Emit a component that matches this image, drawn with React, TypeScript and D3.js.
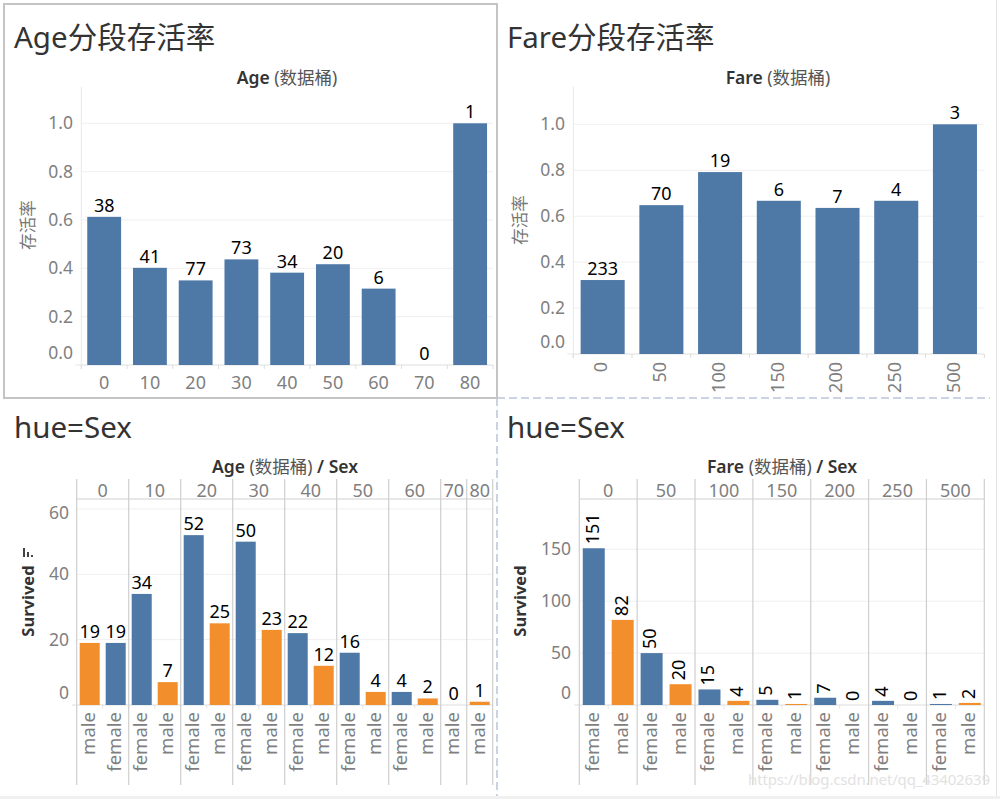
import React from 'react';
import * as d3 from 'd3';

// survival rate by bin (top charts)
const ageBins = ['0', '10', '20', '30', '40', '50', '60', '70', '80'];
const ageRate = [0.613, 0.402, 0.35, 0.437, 0.382, 0.417, 0.316, 0, 1.0];
const ageCount = [38, 41, 77, 73, 34, 20, 6, 0, 1];

const fareBins = ['0', '50', '100', '150', '200', '250', '500'];
const fareRate = [0.322, 0.648, 0.792, 0.667, 0.636, 0.667, 1.0];
const fareCount = [233, 70, 19, 6, 7, 4, 3];

const rateTicks = [0, 0.2, 0.4, 0.6, 0.8, 1.0];

// survived counts by bin / sex (bottom charts)
const ageSexGroup = ['0', '0', '10', '10', '20', '20', '30', '30', '40', '40', '50', '50', '60', '60', '70', '80'];
const ageSexSex = ['male', 'female', 'female', 'male', 'female', 'male', 'female', 'male', 'female', 'male', 'female', 'male', 'female', 'male', 'male', 'male'];
const ageSexSurvived = [19, 19, 34, 7, 52, 25, 50, 23, 22, 12, 16, 4, 4, 2, 0, 1];
const ageSurvTicks = [0, 20, 40, 60];

const fareSexGroup = ['0', '0', '50', '50', '100', '100', '150', '150', '200', '200', '250', '250', '500', '500'];
const fareSexSex = ['female', 'male', 'female', 'male', 'female', 'male', 'female', 'male', 'female', 'male', 'female', 'male', 'female', 'male'];
const fareSexSurvived = [151, 82, 50, 20, 15, 4, 5, 1, 7, 0, 4, 0, 1, 2];
const fareSurvTicks = [0, 50, 100, 150];

const FONT = "'Noto Sans', 'Noto Sans CJK SC', sans-serif";
const BLUE = '#4e79a7';
const ORANGE = '#f28e2b';
const TICK = '#7f7f7f';
const GRID = '#efefef';
const RULE = '#cfcfcf';
const DARK = '#333333';

type RateProps = {
  bins: string[]; rates: number[]; counts: number[];
  left: number; right: number; axisTop: number; base: number; one: number;
  labelRight: number; yTitleX: number; yTitleY: number;
  headerX: number; headerName: string; rotateX: boolean; pad: number;
};

function RateChart(p: RateProps) {
  const x = d3.scaleBand<string>().domain(p.bins).range([p.left, p.right])
    .paddingInner(p.pad).paddingOuter(p.pad / 2);
  const y = d3.scaleLinear().domain([0, 1]).range([p.base, p.one]);
  const step = x.step();
  const bounds = d3.range(p.bins.length + 1).map(i => p.left + i * step);
  return (
    <g>
      <text x={p.headerX} y={84} textAnchor="middle" fontSize={17.5} fill={DARK}>
        <tspan fontWeight={600}>{p.headerName}</tspan>
        <tspan fill="#555"> (数据桶)</tspan>
      </text>
      {rateTicks.map(t => (
        <line key={'g' + t} x1={p.left} x2={p.right} y1={y(t)} y2={y(t)} stroke={GRID} strokeWidth={1} />
      ))}
      <line x1={p.left} x2={p.left} y1={p.axisTop} y2={p.base + 4} stroke="#e8e8e8" />
      <line x1={p.left - 6} x2={p.right} y1={p.base} y2={p.base} stroke="#e6e6e6" />
      {bounds.map((b, i) => (
        <line key={'t' + i} x1={b} x2={b} y1={p.base} y2={p.base + 4} stroke="#dddddd" />
      ))}
      {rateTicks.map(t => (
        <text key={'l' + t} x={p.labelRight} y={y(t) + (t === 0 ? -12 : 0)} dy="0.35em"
          textAnchor="end" fontSize={17.5} fill={TICK}>{t.toFixed(1)}</text>
      ))}
      <text transform={`translate(${p.yTitleX},${p.yTitleY}) rotate(-90)`} textAnchor="middle"
        dominantBaseline="middle" fontSize={16.5} fill="#777">存活率</text>
      {p.bins.map((b, i) => (
        <g key={b}>
          <rect x={x(b)} y={y(p.rates[i])} width={x.bandwidth()} height={p.base - y(p.rates[i])} fill={BLUE} />
          <text x={(x(b) as number) + x.bandwidth() / 2} y={y(p.rates[i]) - 5} textAnchor="middle"
            fontSize={18} fill="#000">{p.counts[i]}</text>
          {p.rotateX ? (
            <text transform={`translate(${(x(b) as number) + x.bandwidth() / 2},${p.base + 8}) rotate(-90)`}
              textAnchor="end" dominantBaseline="middle" fontSize={18} fill={TICK}>{b}</text>
          ) : (
            <text x={(x(b) as number) + x.bandwidth() / 2} y={p.base + 24} textAnchor="middle"
              fontSize={18} fill={TICK}>{b}</text>
          )}
        </g>
      ))}
    </g>
  );
}

type SexProps = {
  groups: string[]; sexes: string[]; values: number[]; ticks: number[];
  left: number; right: number; topTick: number; labelRight: number;
  yTitleX: number; headerX: number; headerName: string; rotateValues: boolean; pad: number;
  icon?: boolean;
};

function SexChart(p: SexProps) {
  const keys = p.groups.map((g, i) => g + '|' + i);
  const slot = d3.scaleBand<string>().domain(keys).range([p.left, p.right]);
  const bar = d3.scaleBand<string>().domain(keys).range([p.left, p.right])
    .paddingInner(p.pad).paddingOuter(p.pad / 2);
  const base = 705;
  const plotTop = 499;
  const maxT = p.ticks[p.ticks.length - 1];
  const y = d3.scaleLinear().domain([0, maxT]).range([base, p.topTick]);
  const uniq = Array.from(new Set(p.groups));
  const spans = uniq.map(g => {
    const idx = p.groups.map((v, i) => (v === g ? i : -1)).filter(i => i >= 0);
    const x0 = slot(keys[idx[0]]) as number;
    const x1 = (slot(keys[idx[idx.length - 1]]) as number) + slot.bandwidth();
    return { g, x0, x1 };
  });
  return (
    <g>
      <text x={p.headerX} y={473} textAnchor="middle" fontSize={17.5} fill={DARK}>
        <tspan fontWeight={600}>{p.headerName}</tspan>
        <tspan fill="#555"> (数据桶) </tspan>
        <tspan fontWeight={600}> /  Sex</tspan>
      </text>
      {p.ticks.filter(t => t > 0).map(t => (
        <line key={'g' + t} x1={p.left} x2={p.right} y1={y(t)} y2={y(t)} stroke={GRID} />
      ))}
      {keys.map((k, i) => (i > 0 ? (
        <line key={'s' + i} x1={slot(k)} x2={slot(k)} y1={base} y2={base + 4} stroke="#e6e6e6" />
      ) : null))}
      <line x1={p.left - 5} x2={p.right} y1={base} y2={base} stroke="#dcdcdc" />
      <line x1={p.left} x2={p.right} y1={plotTop} y2={plotTop} stroke={RULE} strokeWidth={1.2} />
      {spans.map(s => (
        <g key={s.g}>
          <line x1={s.x0} x2={s.x0} y1={479} y2={785} stroke={RULE} strokeWidth={1.2} />
          <text x={(s.x0 + s.x1) / 2} y={497} textAnchor="middle" fontSize={18} fill={TICK}>{s.g}</text>
        </g>
      ))}
      <line x1={p.right} x2={p.right} y1={479} y2={785} stroke={RULE} strokeWidth={1.2} />
      {p.ticks.map(t => {
        let yy = y(t);
        if (t === 0) yy -= 12;
        yy += Math.max(0, plotTop + 14 - yy);
        return (
          <text key={'l' + t} x={p.labelRight} y={yy} dy="0.35em" textAnchor="end" fontSize={17.5} fill={TICK}>{t}</text>
        );
      })}
      <text transform={`translate(${p.yTitleX},601) rotate(-90)`} textAnchor="middle"
        dominantBaseline="middle" fontSize={16.5} fontWeight={700} fill={DARK}>Survived</text>
      {p.icon ? (
        <g fill="#444">
          <rect x={p.yTitleX - 6} y={548} width={2} height={9} />
          <rect x={p.yTitleX - 2} y={552} width={2} height={5} />
          <rect x={p.yTitleX + 2} y={555} width={2} height={2} />
        </g>
      ) : null}
      {keys.map((k, i) => {
        const v = p.values[i];
        const cx = (bar(k) as number) + bar.bandwidth() / 2;
        return (
          <g key={k}>
            <rect x={bar(k)} y={y(v)} width={bar.bandwidth()} height={base - y(v)}
              fill={p.sexes[i] === 'female' ? BLUE : ORANGE} />
            {p.rotateValues ? (
              <text transform={`translate(${cx},${y(v) - 4}) rotate(-90)`} textAnchor="start"
                dominantBaseline="middle" fontSize={18} fill="#000">{v}</text>
            ) : (
              <text x={cx} y={y(v) - 5} textAnchor="middle" fontSize={18} fill="#000">{v}</text>
            )}
            <text transform={`translate(${(slot(k) as number) + slot.bandwidth() / 2},${base + 7}) rotate(-90)`}
              textAnchor="end" dominantBaseline="middle" fontSize={18.5} fill={TICK}>{p.sexes[i]}</text>
          </g>
        );
      })}
    </g>
  );
}

export default function App() {
  return (
    <svg width={1000} height={799} style={{ position: 'absolute', left: 0, top: 0, background: '#fff' }}
      fontFamily={FONT}>
      <rect x={0} y={0} width={1000} height={799} fill="#fff" />
      <rect x={0} y={796} width={1000} height={3} fill="#f0f0f0" />
      <line x1={996.5} x2={996.5} y1={0} y2={796} stroke="#e4e4e4" />
      {/* dashboard dividers */}
      <line x1={497} x2={497} y1={398} y2={796} stroke="#c9d3e3" strokeWidth={2} strokeDasharray="8,4" />
      <line x1={497} x2={990} y1={398} y2={398} stroke="#c9d3e3" strokeWidth={2} strokeDasharray="8,4" />
      <rect x={4} y={4} width={493} height={394} fill="none" stroke="#c4c4c4" strokeWidth={2} />

      <text x={14} y={48} fontSize={29.5} fill={DARK}>Age分段存活率</text>
      <text x={507} y={48} fontSize={29.5} fill={DARK}>Fare分段存活率</text>
      <text x={14} y={438} fontSize={29.5} fill={DARK}>hue=Sex</text>
      <text x={507} y={438} fontSize={29.5} fill={DARK}>hue=Sex</text>

      <RateChart bins={ageBins} rates={ageRate} counts={ageCount}
        left={81.3} right={493} axisTop={87} base={365} one={123.3}
        labelRight={73} yTitleX={30} yTitleY={225} headerX={287} headerName="Age"
        rotateX={false} pad={0.26} />
      <RateChart bins={fareBins} rates={fareRate} counts={fareCount}
        left={573.3} right={984.3} axisTop={87} base={354} one={124.3}
        labelRight={565} yTitleX={522} yTitleY={220} headerX={778} headerName="Fare"
        rotateX={true} pad={0.25} />

      <SexChart groups={ageSexGroup} sexes={ageSexSex} values={ageSexSurvived} ticks={ageSurvTicks}
        left={76.7} right={492.7} topTick={509} labelRight={69} yTitleX={29}
        headerX={285} headerName="Age" rotateValues={false} pad={0.23} icon={true} />
      <SexChart groups={fareSexGroup} sexes={fareSexSex} values={fareSexSurvived} ticks={fareSurvTicks}
        left={579.3} right={984.3} topTick={549.3} labelRight={571} yTitleX={521.7}
        headerX={782} headerName="Fare" rotateValues={true} pad={0.24} />

      <text x={748} y={785} fontSize={15} fill="#e2e2e2" textLength={242}>https://blog.csdn.net/qq_43402639</text>
    </svg>
  );
}
